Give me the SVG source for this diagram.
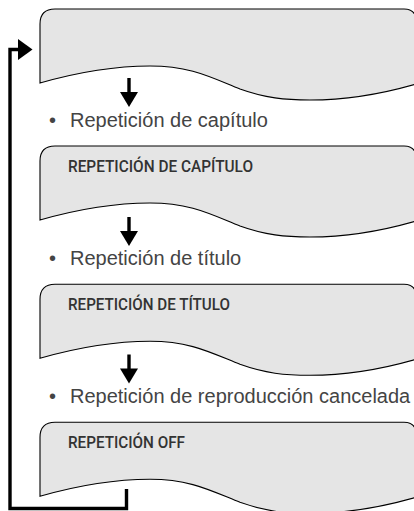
<svg xmlns="http://www.w3.org/2000/svg" width="414" height="511" viewBox="0 0 414 511">
<defs>
<style>
.scr{fill:#e5e5e5;stroke:#000;stroke-width:1.1}
.lbl{font-family:"Roboto","Liberation Sans",sans-serif;font-weight:500;font-size:16px;fill:#333}
.txt{font-family:"Liberation Sans","Arial",sans-serif;font-size:20px;fill:#444}
.ln{fill:none;stroke:#000;stroke-width:3.4}
.ah{fill:#000}
</style>
<path id="screen" class="scr" d="M40,74 V15 Q40,0 55,0 H404 Q416,0 416,12 V75 C385,84 350,91 310,91 C285,91 265,89 240,80 C210,68 190,57 150,57 C115,57 75,64 40,74 Z"/>
<g id="darrow"><rect x="127.3" y="0" width="3.4" height="14.5"/><polygon points="120,14 138,14 129,29"/></g>
</defs>
<g id="node1"><use href="#screen" y="9"/></g>
<g id="node2"><use href="#screen" y="146"/><text class="lbl" x="68" y="172" textLength="185" lengthAdjust="spacingAndGlyphs">REPETICIÓN DE CAPÍTULO</text></g>
<g id="node3"><use href="#screen" y="284.3"/><text class="lbl" x="68" y="310" textLength="162" lengthAdjust="spacingAndGlyphs">REPETICIÓN DE TÍTULO</text></g>
<g id="node4"><use href="#screen" y="422.3"/><text class="lbl" x="68" y="447.5" textLength="117" lengthAdjust="spacingAndGlyphs">REPETICIÓN OFF</text></g>
<g id="labels">
<text class="txt" x="49" y="127">•</text><text class="txt" x="70" y="127">Repetición de capítulo</text>
<text class="txt" x="49" y="265">•</text><text class="txt" x="70" y="265">Repetición de título</text>
<text class="txt" x="49" y="403">•</text><text class="txt" x="70" y="403">Repetición de reproducción cancelada</text>
</g>
<g id="connectors">
<use href="#darrow" y="78"/>
<use href="#darrow" y="217"/>
<use href="#darrow" y="354.5"/>
<path class="ln" d="M126.5,489 V508.5 H10 V49.5 H20"/>
<polygon class="ah" points="18,39 32.5,49.5 18,60"/>
</g>
</svg>
